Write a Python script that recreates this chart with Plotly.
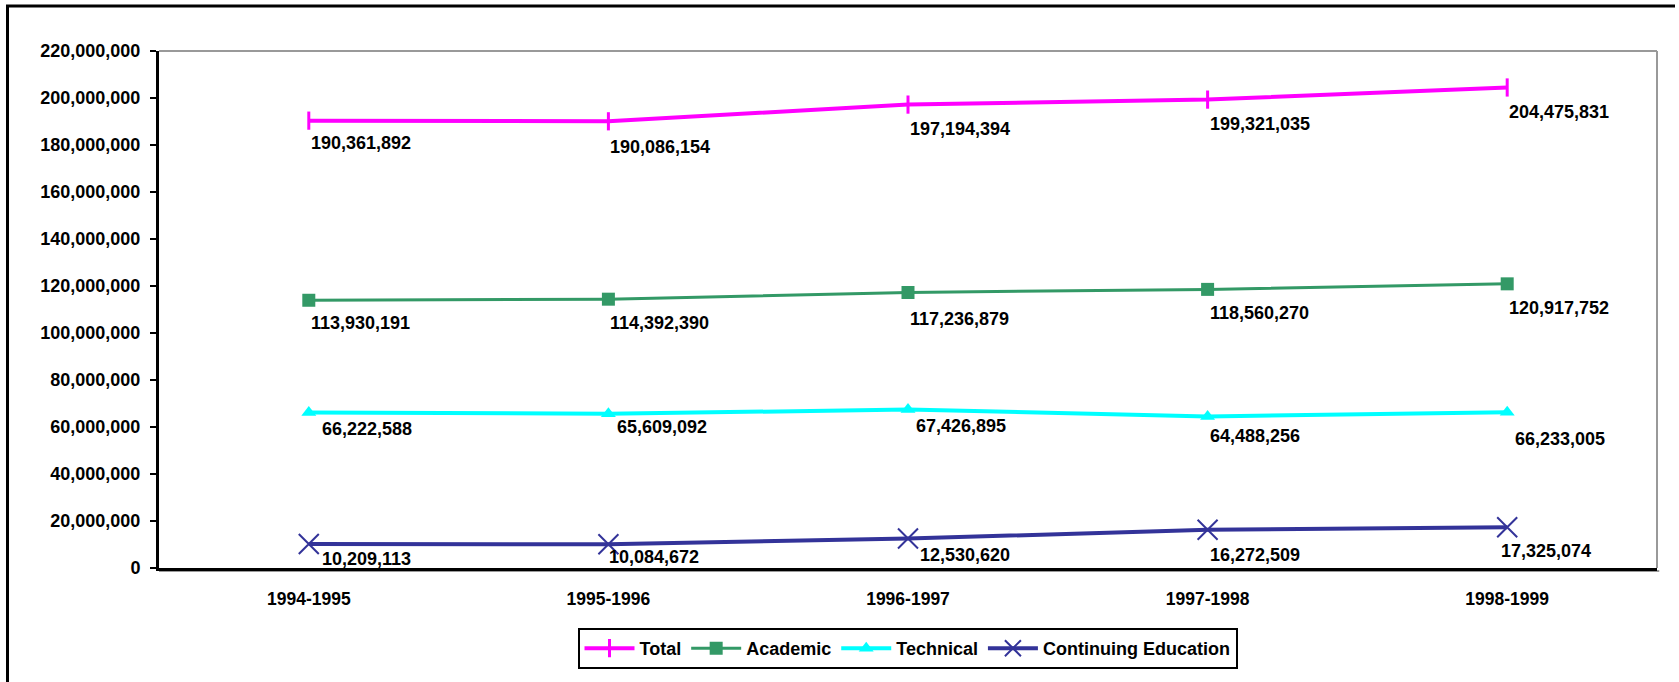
import plotly.graph_objects as go

categories = ["1994-1995", "1995-1996", "1996-1997", "1997-1998", "1998-1999"]
total = [190361892, 190086154, 197194394, 199321035, 204475831]
academic = [113930191, 114392390, 117236879, 118560270, 120917752]
technical = [66222588, 65609092, 67426895, 64488256, 66233005]
continuing = [10209113, 10084672, 12530620, 16272509, 17325074]

y_ticks = list(range(0, 220000001, 20000000))

# label offsets (pixels) per series: (xshift, yshift)
off_total = [(0, -22), (0, -26), (0, -24), (0, -24), (0, -25)]
off_academic = [(0, -23), (0, -24), (0, -27), (0, -24), (0, -24)]
off_technical = [(11, -17), (7, -13), (6, -16), (0, -20), (6, -27)]
off_continuing = [(11, -15), (-1, -13), (10, -16), (0, -25), (-8, -24)]

W, H = 1679, 682
L, R, T, B = 159, 22, 51, 114
pw, ph = W - L - R, H - T - B

FONT = "Arial, Liberation Sans, sans-serif"

series = [
    ("Total", total, "#FF00FF", dict(symbol="line-ns", size=13, line=dict(width=3, color="#FF00FF")), 4, off_total),
    ("Academic", academic, "#339966", dict(symbol="square", size=13, color="#339966"), 3, off_academic),
    ("Technical", technical, "#00FFFF", dict(symbol="triangle-up", size=13, color="#00FFFF"), 4, off_technical),
    ("Continuing Education", continuing, "#333399", dict(symbol="x-thin", size=20, line=dict(width=2, color="#333399")), 4, off_continuing),
]

fig = go.Figure()
annotations = []
for name, vals, color, marker, lw, offs in series:
    fig.add_trace(go.Scatter(
        x=categories, y=vals, name=name, mode="lines+markers",
        line=dict(color=color, width=lw), marker=marker,
    ))
    for c, v, (dx, dy) in zip(categories, vals, offs):
        annotations.append(dict(
            x=c, y=v, xref="x", yref="y", text=f"{v:,}", showarrow=False,
            xanchor="left", yanchor="middle", xshift=dx, yshift=dy,
            font=dict(family=FONT, size=18, color="black", weight="bold"),
        ))

def px_x(p):
    return (p - L) / pw

def px_y(p):
    return (H - B - p) / ph

shapes = [
    # outer frame (top and left edges visible)
    dict(type="line", xref="paper", yref="paper", x0=px_x(6), x1=px_x(1675), y0=px_y(6), y1=px_y(6),
         line=dict(color="black", width=3), layer="below"),
    dict(type="line", xref="paper", yref="paper", x0=px_x(7.5), x1=px_x(7.5), y0=px_y(5), y1=px_y(700),
         line=dict(color="black", width=3), layer="below"),
    # shadow line
    dict(type="line", xref="paper", yref="paper", x0=0, x1=1.0015, y0=px_y(571), y1=px_y(571),
         line=dict(color="#9a9a9a", width=2), layer="below"),
    # top and right plot border
    dict(type="line", xref="paper", yref="paper", x0=0, x1=1, y0=1, y1=1,
         line=dict(color="#999999", width=2)),
    dict(type="line", xref="paper", yref="paper", x0=1, x1=1, y0=0, y1=1,
         line=dict(color="#999999", width=2)),
]

fig.update_layout(
    width=W, height=H,
    margin=dict(l=L, r=R, t=T, b=B),
    paper_bgcolor="white", plot_bgcolor="white",
    font=dict(family=FONT, size=18, color="black", weight="bold"),
    showlegend=True,
    legend=dict(
        orientation="h", x=px_x(907.5), y=px_y(669), xanchor="center", yanchor="bottom",
        bordercolor="black", borderwidth=2, bgcolor="white",
        font=dict(family=FONT, size=18, color="black", weight="bold"),
        itemwidth=50, tracegroupgap=0,
    ),
    xaxis=dict(
        type="category", range=[-0.5, 4.5], showgrid=False, zeroline=False,
        showline=True, linecolor="black", linewidth=3, ticks="",
        tickfont=dict(family=FONT, size=17.5, weight="bold"), ticklabelstandoff=13,
    ),
    yaxis=dict(
        range=[0, 220000000], tickvals=y_ticks, tickformat=",d", showgrid=False,
        zeroline=False, showline=True, linecolor="black", linewidth=3,
        ticks="outside", ticklen=6, tickwidth=2, tickcolor="black",
        tickfont=dict(family=FONT, size=18, weight="bold"), ticklabelstandoff=6,
    ),
    shapes=shapes,
    annotations=annotations,
)

fig.write_html(
    "out.html",
    config={"displayModeBar": False},
    post_script="document.body.style.margin='0px';document.body.style.overflow='hidden';",
)
